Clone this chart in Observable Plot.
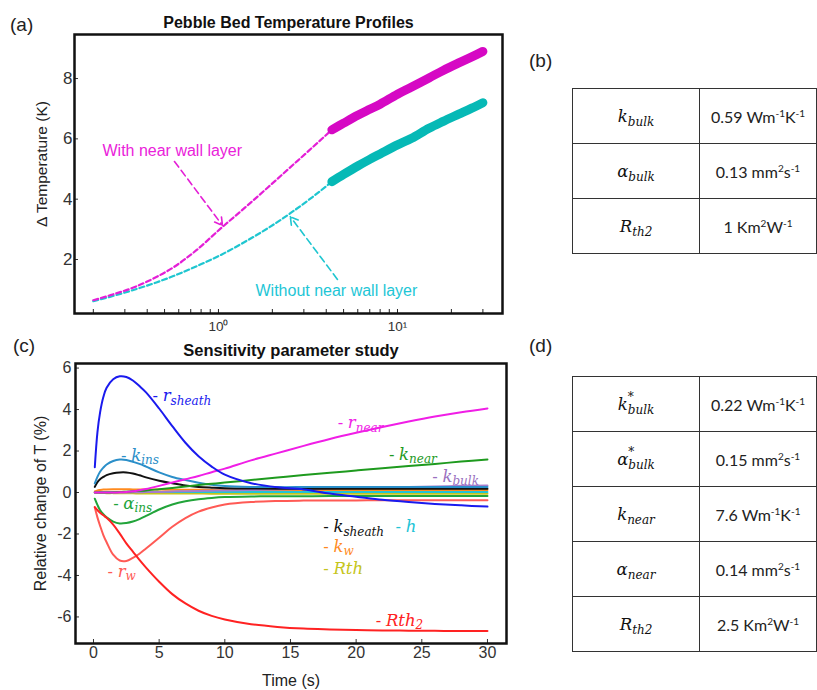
<!DOCTYPE html>
<html><head><meta charset="utf-8">
<script src="https://cdn.jsdelivr.net/npm/d3@7"></script>
<script src="https://cdn.jsdelivr.net/npm/@observablehq/plot@0.6"></script>
<style>
body{margin:0;background:#fff;width:817px;height:690px;position:relative;overflow:hidden;font-family:"Liberation Sans",Arial,sans-serif;}
.plabel{position:absolute;font-size:19px;line-height:1;color:#222;font-family:"Liberation Sans",Arial,sans-serif}
table{border-collapse:collapse;position:absolute;table-layout:fixed}
td{border:1.5px solid #333;text-align:center;padding:0;height:54px}
.m{font-family:"DejaVu Serif",serif;font-style:italic;font-size:16.5px;color:#111}
.m sub{font-size:12px;vertical-align:-4px;line-height:0}
.ss{display:inline-block;vertical-align:-4px;line-height:13px;font-size:12px;text-align:left}
.ss span{display:block}
.v{font-family:Lato,"Open Sans",sans-serif;font-size:16px;color:#222}
.v sup{font-size:10px;vertical-align:6px;line-height:0}
</style></head><body>
<script>
// ---------- Panel (a) data ----------
const aModelTime    = [0.2, 0.25, 0.335, 0.45, 0.56, 0.75, 1.03, 1.4, 1.88, 2.5, 3.2, 4.3];
const aModelWith    = [0.65, 0.82, 1.07, 1.42, 1.74, 2.3, 3.03, 3.71, 4.38, 5.04, 5.61, 6.3];
const aModelWithout = [0.62, 0.77, 0.99, 1.24, 1.45, 1.77, 2.15, 2.58, 3.03, 3.52, 3.98, 4.58];
const aMeasTime     = [4.3, 5, 6, 7, 8, 10, 12, 15, 18, 22, 26, 30];
const aMeasWith     = [6.3, 6.52, 6.78, 6.98, 7.15, 7.48, 7.72, 8.02, 8.27, 8.52, 8.72, 8.9];
const aMeasWithout  = [4.58, 4.82, 5.1, 5.32, 5.5, 5.8, 6.02, 6.35, 6.58, 6.82, 7.02, 7.2];
const aXMajor = [1, 10];
const aXMajorLabels = ["10\u2070", "10\u00b9"];
const aXMinor = [0.2,0.3,0.4,0.5,0.6,0.7,0.8,0.9,2,3,4,5,6,7,8,9,20,30];
const aYTicks = [2, 4, 6, 8];
const aNoteText = ["With near wall layer", "Without near wall layer"];
const aNoteX = [0.225, 1.61];
const aNoteY = [5.61, 0.97];
const aArrowFrom = [[0.568, 5.25], [4.62, 1.34]];
const aArrowTo   = [[1.053, 3.13], [2.52, 3.42]];

// ---------- Panel (c) data ----------
const cTimes   = [0.1,0.3,0.5,0.75,1,1.5,2,2.5,3,3.5,4,5,6,7,8,9,10,12,14,16,18,20,22,24,26,28,30];
const rSheath  = [1.22,2.9,3.85,4.6,5.05,5.46,5.6,5.57,5.4,5.13,4.83,4.05,3.2,2.4,1.75,1.25,0.86,0.45,0.25,0.15,-0.05,-0.2,-0.35,-0.46,-0.55,-0.62,-0.68];
const rNear    = [0,0,0,0,0,0,0.01,0.03,0.06,0.11,0.17,0.32,0.48,0.64,0.8,0.98,1.15,1.55,1.9,2.25,2.58,2.88,3.16,3.42,3.66,3.87,4.05];
const kIns     = [0.44,0.75,1.0,1.2,1.35,1.52,1.59,1.57,1.48,1.38,1.25,0.97,0.75,0.6,0.47,0.37,0.31,0.27,0.26,0.26,0.26,0.26,0.26,0.26,0.26,0.26,0.26];
const kSheath  = [0.27,0.5,0.64,0.75,0.84,0.93,0.97,0.97,0.92,0.83,0.73,0.57,0.45,0.34,0.27,0.23,0.2,0.19,0.18,0.18,0.18,0.18,0.18,0.18,0.18,0.18,0.18];
const kNear    = [0,0,0,0,0,0.01,0.02,0.04,0.06,0.08,0.1,0.16,0.22,0.29,0.36,0.42,0.48,0.6,0.72,0.84,0.95,1.06,1.17,1.28,1.38,1.49,1.59];
const kBulk    = [0,0,0,0,0,0,0,0,0.01,0.01,0.02,0.03,0.05,0.06,0.07,0.09,0.1,0.12,0.15,0.17,0.2,0.22,0.24,0.27,0.29,0.32,0.34];
const alphaIns = [-0.3,-0.6,-0.85,-1.05,-1.2,-1.4,-1.49,-1.47,-1.4,-1.28,-1.13,-0.82,-0.58,-0.42,-0.32,-0.26,-0.22,-0.19,-0.18,-0.18,-0.17,-0.17,-0.17,-0.17,-0.17,-0.17,-0.17];
const rW       = [-0.72,-1.2,-1.6,-2.05,-2.4,-3.0,-3.28,-3.3,-3.15,-2.95,-2.7,-2.18,-1.65,-1.23,-0.92,-0.72,-0.58,-0.46,-0.41,-0.39,-0.38,-0.38,-0.37,-0.37,-0.37,-0.37,-0.37];
const rth2     = [-0.7,-0.85,-0.98,-1.1,-1.22,-1.55,-1.98,-2.45,-2.85,-3.25,-3.62,-4.3,-4.9,-5.35,-5.7,-5.95,-6.12,-6.35,-6.48,-6.56,-6.6,-6.63,-6.65,-6.66,-6.67,-6.68,-6.68];
const kW       = [0.05,0.1,0.12,0.14,0.15,0.16,0.16,0.16,0.15,0.15,0.14,0.14,0.13,0.13,0.13,0.12,0.12,0.12,0.12,0.12,0.12,0.12,0.12,0.12,0.12,0.12,0.12];
const hCoef    = [0.01,0.02,0.02,0.02,0.02,0.02,0.02,0.02,0.02,0.02,0.02,0.02,0.02,0.02,0.02,0.02,0.02,0.02,0.02,0.02,0.02,0.02,0.02,0.02,0.02,0.02,0.02];
const rth      = [0,-0.01,-0.02,-0.02,-0.03,-0.03,-0.04,-0.04,-0.04,-0.05,-0.05,-0.05,-0.05,-0.05,-0.05,-0.06,-0.06,-0.06,-0.06,-0.06,-0.06,-0.06,-0.06,-0.06,-0.06,-0.06,-0.06];
const cXTicks = [0, 5, 10, 15, 20, 25, 30];
const cYTicks = [-6, -4, -2, 0, 2, 4, 6];
const cLabelMain = ["r", "r", "k", "k", "k", "\u03b1", "k", "h", "k", "Rth", "r", "Rth"];
const cLabelSub  = ["sheath", "near", "ins", "near", "bulk", "ins", "sheath", "", "w", "", "w", "2"];
const cLabelT    = [4.5, 18.6, 2.1, 22.5, 25.8, 1.5, 17.5, 23.0, 17.5, 17.5, 1.07, 21.5];
const cLabelV    = [4.67, 3.37, 1.78, 1.83, 0.77, -0.53, -1.66, -1.64, -2.6, -3.66, -3.8, -6.17];

// ---------- Tables ----------
const bRowsMain = ["k", "\u03b1", "R"];
const bRowsSub  = ["bulk", "bulk", "th2"];
const bRowsVal  = ["0.59 Wm<sup>-1</sup>K<sup>-1</sup>", "0.13 mm<sup>2</sup>s<sup>-1</sup>", "1 Km<sup>2</sup>W<sup>-1</sup>"];
const dRowsMain = ["k", "\u03b1", "k", "\u03b1", "R"];
const dRowsSub  = ["bulk", "bulk", "near", "near", "th2"];
const dRowsStar = [true, true, false, false, false];
const dRowsVal  = ["0.22 Wm<sup>-1</sup>K<sup>-1</sup>", "0.15 mm<sup>2</sup>s<sup>-1</sup>", "7.6 Wm<sup>-1</sup>K<sup>-1</sup>", "0.14 mm<sup>2</sup>s<sup>-1</sup>", "2.5 Km<sup>2</sup>W<sup>-1</sup>"];

// ---------- helpers ----------
function place(el, left, top, w, h) {
  const d = document.createElement("div");
  d.style.position = "absolute"; d.style.left = left + "px"; d.style.top = top + "px";
  d.style.width = w + "px"; d.style.height = h + "px";
  d.appendChild(el); document.body.appendChild(d);
}
function panelLabel(txt, left, top) {
  const d = document.createElement("div");
  d.className = "plabel"; d.style.left = left + "px"; d.style.top = top + "px"; d.textContent = txt;
  document.body.appendChild(d);
}
const font = "Liberation Sans, Arial, sans-serif";

// ---------- Plot (a) ----------
const magentaLine = "#e41fd6", magentaDot = "#d608c4", cyanLine = "#1fc6d0", cyanDot = "#06b9b6";
const aModel = aModelTime.flatMap((t, i) => [
  {t, v: aModelWith[i], s: "with"}, {t, v: aModelWithout[i], s: "without"}]);
const aMeas = aMeasTime.flatMap((t, i) => [
  {t, v: aMeasWith[i], s: "with"}, {t, v: aMeasWithout[i], s: "without"}]);
const aNotes = aNoteText.map((text, i) => ({text, x: aNoteX[i], y: aNoteY[i], c: i === 0 ? "#ea22da" : "#1ec6d6"}));
const aArrows = aArrowFrom.map((f, i) => ({x1: f[0], y1: f[1], x2: aArrowTo[i][0], y2: aArrowTo[i][1], c: i === 0 ? magentaLine : cyanLine}));

const plotA = Plot.plot({
  width: 512, height: 340, marginLeft: 74, marginRight: 10, marginTop: 34, marginBottom: 27,
  style: {fontFamily: font, background: "transparent", overflow: "visible"},
  x: {type: "log", domain: [0.157, 38.6], label: null},
  y: {domain: [0.21, 9.46], label: null},
  color: {type: "identity"},
  marks: [
    Plot.line(aModel.filter(d => d.s === "without"), {x: "t", y: "v", stroke: cyanLine, strokeWidth: 2.2, strokeDasharray: "5,3", curve: "monotone-x"}),
    Plot.line(aModel.filter(d => d.s === "with"), {x: "t", y: "v", stroke: magentaLine, strokeWidth: 2.2, strokeDasharray: "5,3", curve: "monotone-x"}),
    Plot.line(aMeas.filter(d => d.s === "with"), {x: "t", y: "v", stroke: magentaDot, strokeWidth: 9, strokeLinecap: "round", strokeLinejoin: "round", curve: "catmull-rom"}),
    Plot.line(aMeas.filter(d => d.s === "without"), {x: "t", y: "v", stroke: cyanDot, strokeWidth: 9, strokeLinecap: "round", strokeLinejoin: "round", curve: "catmull-rom"}),
    Plot.arrow(aArrows, {x1: "x1", y1: "y1", x2: "x2", y2: "y2", stroke: d => d.c, strokeWidth: 1.6, strokeDasharray: "7,4", headLength: 8}),
    Plot.text(aNotes, {x: "x", y: "y", text: "text", fill: d => d.c, textAnchor: "start", fontSize: 16}),
    Plot.axisX({ticks: aXMinor.concat(aXMajor), tickSize: -4, tickFormat: () => "", color: "#222"}),
    Plot.axisX({ticks: aXMajor, tickSize: 0, tickPadding: 8, fontSize: 13.5, color: "#333", tickFormat: d => aXMajorLabels[aXMajor.indexOf(d)]}),
    Plot.axisY({ticks: aYTicks, tickSize: -4, tickPadding: 6, fontSize: 17, color: "#333", tickFormat: d => String(d)}),
    Plot.text(["\u0394 Temperature (K)"], {frameAnchor: "left", textAnchor: "middle", lineAnchor: "middle", dx: -32, dy: -10, rotate: -90, fontSize: 15.5, fill: "#222"}),
    Plot.text(["Pebble Bed Temperature Profiles"], {frameAnchor: "top", lineAnchor: "middle", dy: -12, fontSize: 16, fontWeight: "bold", fill: "#111"}),
    Plot.frame({stroke: "#111", strokeWidth: 2.5})
  ]
});
place(plotA, 0, 0, 512, 340);

// ---------- Plot (c) ----------
const cSeries = [
  {name: "Rth", values: rth, color: "#c5c51c"},
  {name: "h", values: hCoef, color: "#22c4d6"},
  {name: "kw", values: kW, color: "#ff8a1e"},
  {name: "kbulk", values: kBulk, color: "#a57ccc"},
  {name: "ksheath", values: kSheath, color: "#111111"},
  {name: "kins", values: kIns, color: "#2b8fc9"},
  {name: "knear", values: kNear, color: "#1e9a1e"},
  {name: "alphains", values: alphaIns, color: "#22a43a"},
  {name: "rw", values: rW, color: "#ff5a55"},
  {name: "rth2", values: rth2, color: "#ff2222"},
  {name: "rnear", values: rNear, color: "#f01ee6"},
  {name: "rsheath", values: rSheath, color: "#1a1aee"}
];
const labelColors = ["#1a1aee", "#f01ee6", "#2b8fc9", "#1e9a1e", "#9a70c0", "#22a43a", "#111111", "#22c4d6", "#ff8a1e", "#c5c51c", "#ff5a55", "#ff2222"];
const cLabels = cLabelMain.map((main, i) => ({main, sub: cLabelSub[i], t: cLabelT[i], v: cLabelV[i], color: labelColors[i]}));

const plotC = Plot.plot({
  width: 516, height: 360, marginLeft: 75, marginRight: 10, marginTop: 33, marginBottom: 47,
  style: {fontFamily: font, background: "transparent", overflow: "visible"},
  x: {domain: [-1.37, 31.45], label: null},
  y: {domain: [-7.28, 6.22], label: null},
  color: {type: "identity"},
  marks: [
    ...cSeries.map(s => Plot.line(cTimes.map((t, i) => ({t, v: s.values[i]})), {x: "t", y: "v", stroke: s.color, strokeWidth: 2, curve: "catmull-rom"})),
    Plot.text(cLabels, {x: "t", y: "v", text: "main", fill: "color", textAnchor: "start", fontFamily: "DejaVu Serif, serif", fontStyle: "italic", fontSize: 16.5, ariaDescription: "param-labels"}),
    Plot.axisX({ticks: cXTicks, tickSize: -4, tickPadding: 7, fontSize: 16, color: "#333", tickFormat: d => String(d)}),
    Plot.axisY({ticks: cYTicks, tickSize: -4, tickPadding: 8, fontSize: 16, color: "#333", tickFormat: d => String(d)}),
    Plot.text(["Time (s)"], {frameAnchor: "bottom", lineAnchor: "middle", dy: 37, fontSize: 16, fill: "#222"}),
    Plot.text(["Relative change of T (%)"], {frameAnchor: "left", textAnchor: "middle", lineAnchor: "middle", dx: -35, rotate: -90, fontSize: 16, fill: "#222"}),
    Plot.text(["Sensitivity parameter study"], {frameAnchor: "top", lineAnchor: "middle", dy: -13, fontSize: 16.5, fontWeight: "bold", fill: "#111"}),
    Plot.frame({stroke: "#111", strokeWidth: 2.5})
  ]
});
let labelTexts = Array.from(plotC.querySelectorAll('[aria-description="param-labels"] text'));
if (labelTexts.length !== cLabels.length) {
  const groups = Array.from(plotC.querySelectorAll("g")).filter(g => {
    const ts = g.querySelectorAll(":scope > text");
    return ts.length === cLabels.length && ts[0].textContent === cLabels[0].main;
  });
  if (groups.length) labelTexts = Array.from(groups[0].querySelectorAll(":scope > text"));
}
labelTexts.forEach((node, i) => {
  const L = cLabels[i];
  const t = d3.select(node);
  t.text(null);
  t.append("tspan").attr("font-style", "normal").attr("font-family", font).text("- ");
  t.append("tspan").text(L.main);
  if (L.sub) t.append("tspan").attr("font-size", 12).attr("dy", "0.3em").text(L.sub);
});
place(plotC, 0, 330, 516, 360);

// ---------- Panel letters ----------
panelLabel("(a)", 10, 15);
panelLabel("(b)", 529, 51);
panelLabel("(c)", 13, 336);
panelLabel("(d)", 529, 336);

// ---------- Tables ----------
function buildTable(mains, subs, vals, stars, left, top) {
  const tbl = document.createElement("table");
  tbl.style.left = left + "px"; tbl.style.top = top + "px"; tbl.style.width = "244px";
  const cg = document.createElement("colgroup");
  cg.innerHTML = '<col style="width:127px"><col style="width:117px">';
  tbl.appendChild(cg);
  mains.forEach((m, i) => {
    const tr = document.createElement("tr");
    const td1 = document.createElement("td");
    td1.className = "m";
    td1.innerHTML = stars && stars[i]
      ? `${m}<span class="ss"><span>*</span><span>${subs[i]}</span></span>`
      : `${m}<sub>${subs[i]}</sub>`;
    const td2 = document.createElement("td");
    td2.className = "v"; td2.innerHTML = vals[i];
    tr.appendChild(td1); tr.appendChild(td2); tbl.appendChild(tr);
  });
  document.body.appendChild(tbl);
}
buildTable(bRowsMain, bRowsSub, bRowsVal, null, 572, 88);
buildTable(dRowsMain, dRowsSub, dRowsVal, dRowsStar, 572, 376);
</script>
</body></html>
